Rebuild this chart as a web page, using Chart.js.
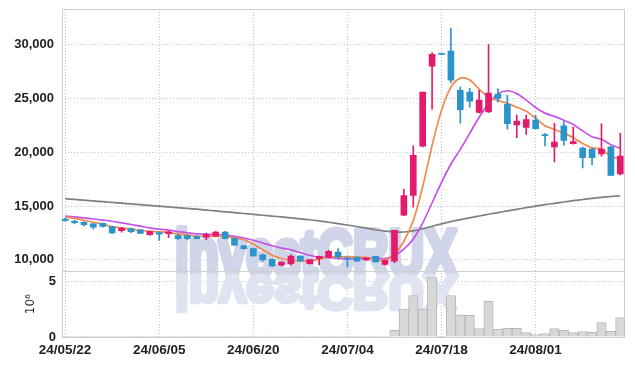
<!DOCTYPE html>
<html>
<head>
<meta charset="utf-8">
<script src="https://cdn.jsdelivr.net/npm/chart.js@4.4.1/dist/chart.umd.min.js"></script>
<style>
html, body { margin: 0; padding: 0; background: #fff; }
#wrap { width: 635px; height: 366px; }
</style>
</head>
<body>
<div id="wrap"><canvas id="myChart"></canvas></div>
<script>
var dates = ['24/05/22','24/05/23','24/05/24','24/05/27','24/05/28','24/05/29','24/05/30','24/05/31','24/06/03','24/06/04',
             '24/06/05','24/06/07','24/06/10','24/06/11','24/06/12','24/06/13','24/06/14','24/06/17','24/06/18','24/06/19',
             '24/06/20','24/06/21','24/06/24','24/06/25','24/06/26','24/06/27','24/06/28','24/07/01','24/07/02','24/07/03',
             '24/07/04','24/07/05','24/07/08','24/07/09','24/07/10','24/07/11','24/07/12','24/07/15','24/07/16','24/07/17',
             '24/07/18','24/07/19','24/07/22','24/07/23','24/07/24','24/07/25','24/07/26','24/07/29','24/07/30','24/07/31',
             '24/08/01','24/08/02','24/08/05','24/08/06','24/08/07','24/08/08','24/08/09','24/08/12','24/08/13','24/08/14'];

var open  = [13800,13600,13500,13350,13400,13100,12710,12900,12800,12350,
             12530,12440,12250,12250,12190,12100,12220,12590,12000,11300,
             11050,10480,10050,9500,9650,10360,9650,10110,10240,10730,
             10200,10240,9990,10330,9590,9870,14150,16000,20560,28000,
             29150,29400,25750,25600,23700,23750,25400,24450,22550,22300,
             23000,21600,20500,22450,20800,20400,20300,19850,20500,18000];
var high  = [13880,13650,13550,13380,13450,13150,12980,12950,12850,12700,
             12600,12650,12350,12300,12250,12500,12650,12650,12050,11350,
             11100,10550,10100,9820,10480,10400,10050,10350,10900,11040,
             10250,10300,10200,10350,9980,12750,16560,20600,25600,29250,
             29150,31550,26050,25950,25750,30000,25900,25300,23450,23450,
             23450,21750,22700,22850,22350,20500,20400,22650,20550,21750];
var low   = [13600,13350,13150,12850,13050,12430,12570,12530,12430,12300,
             11820,12070,11900,11850,11950,11880,12150,11950,11350,11000,
             10350,9870,9400,9450,9500,9850,9600,9550,10200,10060,
             9350,9850,9950,9780,9500,9740,14100,14900,20500,24000,
             29100,26450,22700,24200,23650,23700,24650,22150,21350,21650,
             22150,20600,19100,20650,20750,18550,18850,19650,17850,17900];
var close = [13650,13450,13280,13050,13100,12500,12960,12630,12450,12650,
             12380,12600,11970,11980,11980,12380,12590,11970,11360,11050,
             10360,10020,9430,9800,10360,9900,10020,10330,10800,10270,
             10100,9870,10180,9800,9960,12750,15970,19720,25600,29100,
             29100,26700,23950,24750,24850,25500,25000,22650,22900,23050,
             22200,21550,20950,21100,21000,19500,19500,20300,17850,19650];

// volume in millions of shares
var volume = [0.02,0.02,0.02,0.02,0.02,0.02,0.02,0.02,0.02,0.02,
              0.08,0.02,0.02,0.02,0.02,0.02,0.02,0.02,0.02,0.02,
              0.08,0.08,0.08,0.02,0.02,0.02,0.02,0.02,0.08,0.02,
              0.02,0.02,0.02,0.02,0.02,0.6,2.5,3.73,2.5,5.35,
              0.02,3.73,2.0,1.95,0.75,3.2,0.7,0.78,0.78,0.4,
              0.22,0.3,0.75,0.6,0.4,0.49,0.42,1.3,0.51,1.75];

var ma5  = [14000,13850,13680,13500,13330,13080,12980,12850,12730,12640,
            12610,12540,12410,12320,12180,12180,12180,12180,12060,11870,
            11470,10950,10440,10130,9990,9900,9900,10080,10280,10260,
            10300,10270,10240,10040,9980,10510,11730,13640,16800,20630,
            23900,26040,26890,26720,25870,25150,24810,24550,24180,23820,
            23160,22470,22130,21770,21360,20820,20410,20280,19630,19360];
var ma10 = [14080,14000,13900,13800,13700,13590,13440,13290,13130,12970,
            12850,12760,12630,12520,12410,12400,12360,12300,12190,12030,
            11820,11570,11310,11090,10930,10680,10430,10260,10210,10130,
            10100,10090,10160,10160,10120,10410,11000,11940,13420,15310,
            17210,18890,20270,21760,23250,24520,25430,25720,25450,24850,
            24160,23640,23340,22980,22590,21990,21440,21210,20700,20360];
var maLong = [15690,15620,15550,15480,15410,15340,15270,15200,15130,15060,
              14990,14920,14850,14780,14710,14630,14550,14470,14390,14310,
              14230,14150,14070,13990,13910,13820,13730,13620,13500,13370,
              13240,13100,12950,12800,12680,12600,12590,12700,12900,13130,
              13350,13550,13740,13910,14080,14240,14400,14550,14700,14850,
              15000,15130,15260,15380,15500,15610,15720,15810,15890,15960];

var priceTicks = [10000, 15000, 20000, 25000, 30000];

var UP = '#e31b6c', DOWN = '#2b95c9';
var candleColors = close.map(function(c, i) { return c >= open[i] ? UP : DOWN; });
var xy = function(arr) { return arr.map(function(v, i) { return {x: i, y: v}; }); };

var tickFont = {family: '"Liberation Sans", Arial, sans-serif', size: 13, weight: 'bold'};
var gridColor = 'rgba(180,186,215,0.85)';

// no extra room around the axes, the frame is fixed
var noPad = function(w) {
    return function(s) {
        if (w) s.width = w; else s.height = 29;
        s.paddingTop = 0; s.paddingBottom = 0; s.paddingLeft = 0; s.paddingRight = 0;
    };
};

var frame = {
    id: 'frame',
    beforeDatasetsDraw: function(chart) {
        var ctx = chart.ctx, a = chart.chartArea;
        ctx.save();
        // watermark + its reflection
        ctx.font = 'bold 66px "Liberation Sans", Arial, sans-serif';
        var w = ctx.measureText('investCRUX').width;
        ctx.translate(175, 276);
        ctx.scale(282 / w, 1);
        ctx.lineJoin = 'round';
        ctx.lineWidth = 6;
        ctx.fillStyle = ctx.strokeStyle = '#d0d5ea';
        ctx.strokeText('investCRUX', 0, 0);
        ctx.fillText('investCRUX', 0, 0);
        ctx.scale(1, -0.72);
        ctx.fillStyle = ctx.strokeStyle = '#e0e3f0';
        ctx.strokeText('investCRUX', 0, 0);
        ctx.fillText('investCRUX', 0, 0);
        ctx.restore();

        ctx.save();
        ctx.strokeStyle = '#cfcfcf';
        ctx.lineWidth = 1;
        ctx.strokeRect(a.left + 0.5, a.top + 0.5, a.right - a.left - 1, a.bottom - a.top);
        var sep = Math.round(chart.scales.yv.top) + 0.5;
        ctx.beginPath();
        ctx.moveTo(a.left, sep);
        ctx.lineTo(a.right, sep);
        ctx.stroke();
        ctx.restore();
    }
};

var ctx = document.getElementById('myChart').getContext('2d');
var myChart = new Chart(ctx, {
    data: {
        datasets: [
            {
                type: 'bar', label: 'body', yAxisID: 'y', order: 0, grouped: false,
                data: open.map(function(o, i) { return {x: i, y: [o, close[i]]}; }),
                backgroundColor: candleColors, barThickness: 6, minBarLength: 1
            },
            {
                type: 'bar', label: 'wick', yAxisID: 'y', order: 0, grouped: false,
                data: low.map(function(l, i) { return {x: i, y: [l, high[i]]}; }),
                backgroundColor: candleColors, barThickness: 1
            },
            {
                type: 'line', label: 'MA5', yAxisID: 'y', order: 1, data: xy(ma5),
                borderColor: '#ef8a4f', borderWidth: 1.7, pointRadius: 0, tension: 0.3
            },
            {
                type: 'line', label: 'MA10', yAxisID: 'y', order: 1, data: xy(ma10),
                borderColor: '#c653e6', borderWidth: 1.7, pointRadius: 0, tension: 0.3
            },
            {
                type: 'line', label: 'MA', yAxisID: 'y', order: 1, data: xy(maLong),
                borderColor: '#808080', borderWidth: 1.7, pointRadius: 0, tension: 0.3
            },
            {
                type: 'bar', label: 'volume', yAxisID: 'yv', order: 2, grouped: false,
                data: xy(volume),
                backgroundColor: '#d8d8d8', borderColor: '#b8b8b8', borderWidth: 1,
                barPercentage: 1, categoryPercentage: 1
            }
        ]
    },
    options: {
        responsive: true,
        maintainAspectRatio: false,
        animation: false,
        layout: { padding: { top: 9, right: 10, left: 0, bottom: 0 } },
        plugins: { legend: { display: false }, tooltip: { enabled: false } },
        scales: {
            x: {
                type: 'linear', min: -0.33, max: 59.5, offset: false,
                afterFit: noPad(0),
                grid: { color: gridColor, drawTicks: false, offset: false },
                border: { display: false, dash: [1, 2] },
                ticks: {
                    stepSize: 10, includeBounds: false, autoSkip: false, maxRotation: 0,
                    padding: 5, color: '#222',
                    font: { family: '"Liberation Sans", Arial, sans-serif', size: 13.5, weight: 'bold' },
                    callback: function(v) { return dates[v]; }
                }
            },
            yv: {
                type: 'linear', position: 'left', stack: 'panes', stackWeight: 1,
                min: 0, max: 5.9,
                afterFit: noPad(62),
                grid: { color: gridColor, drawTicks: false },
                border: { display: false, dash: [1, 2] },
                title: { display: true, text: '10⁶', color: '#333', padding: { top: 24, bottom: 0 },
                         font: { family: '"DejaVu Sans", sans-serif', size: 12 } },
                ticks: {
                    stepSize: 5, includeBounds: false, padding: 6, color: '#222', font: tickFont
                }
            },
            y: {
                type: 'linear', position: 'left', stack: 'panes', stackWeight: 4,
                min: 8930, max: 33315,
                afterFit: noPad(62),
                afterBuildTicks: function(s) { s.ticks = priceTicks.map(function(v) { return {value: v}; }); },
                grid: { color: gridColor, drawTicks: false },
                border: { display: false, dash: [1, 2] },
                ticks: {
                    padding: 8, color: '#222', font: tickFont,
                    callback: function(v) { return v.toLocaleString('en-US'); }
                }
            }
        }
    },
    plugins: [frame]
});
</script>
</body>
</html>
